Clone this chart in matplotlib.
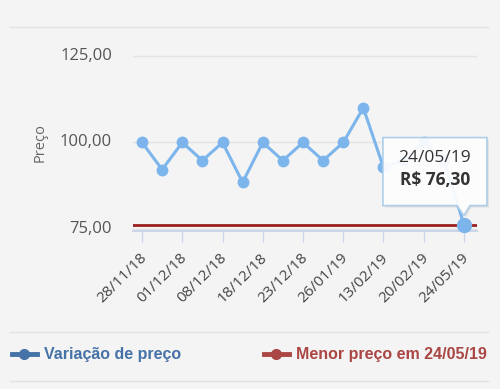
import numpy as np
import matplotlib.pyplot as plt
from matplotlib.lines import Line2D
from matplotlib.patches import Polygon
from matplotlib.transforms import ScaledTranslation

# dados do gráfico
precos = [100, 92.2, 100, 94.8, 100, 88.5, 100, 94.8, 100, 94.8, 100, 110, 92.8, 95, 100, 95, 76.3]
datas = ['28/11/18', '01/12/18', '08/12/18', '18/12/18', '23/12/18',
         '26/01/19', '13/02/19', '20/02/19', '24/05/19']
y_ticks = [75, 100, 125]
menor_preco = 76.3
menor_data = '24/05/19'

bg = '#f4f4f4'
plt.rcParams['font.family'] = ['Open Sans', 'DejaVu Sans']

fig = plt.figure(figsize=(5, 3.89), dpi=100, facecolor=bg)
ax = fig.add_axes([0.266, 0.406, 0.688, 0.453], facecolor=bg)

x = np.arange(len(precos))
ax.axhline(menor_preco, color='#9b1f1f', lw=2, zorder=2)
ax.plot(x, precos, color='#7cb5ec', lw=2.2, marker='o', markersize=7.5, zorder=3)
ax.plot(x[-1], precos[-1], 'o', color='#7cb5ec', markersize=10, zorder=8, clip_on=False)

ax.set_xlim(-0.45, len(precos) - 0.35)
ax.set_ylim(74.43, 125.3)

# eixo y: rótulos colocados à mão
ax.set_yticks(y_ticks)
ax.set_yticklabels([])
ax.yaxis.grid(True, color='#e3e3e3', lw=1)
ax.set_axisbelow(True)
ax.tick_params(axis='y', length=0)
for v in y_ticks:
    ax.text(-0.061, v, f'{v:.2f}'.replace('.', ','), transform=ax.get_yaxis_transform(),
            ha='right', va='center', fontsize=12, color='#555555')
ax.set_ylabel('Preço', fontsize=10.5, color='#666666')
ax.yaxis.set_label_coords(-0.247, 0.5)

# eixo x: só datas pares, rótulos girados
ax.set_xticks(x[::2])
ax.set_xticklabels([])
ax.tick_params(axis='x', length=8, width=1, color='#ccd6eb')
desloc = ax.get_xaxis_transform() + ScaledTranslation(0.025, -0.245, fig.dpi_scale_trans)
for xi, d in zip(x[::2], datas):
    ax.text(xi, 0, d, transform=desloc, rotation=45, ha='right', va='center',
            rotation_mode='anchor', fontsize=11, color='#444444')

for s in ['top', 'right', 'left']:
    ax.spines[s].set_visible(False)
ax.spines['bottom'].set_color('#ccd6eb')
ax.spines['bottom'].set_linewidth(1.5)

# tooltip (em polegadas a partir do último ponto)
ponto = fig.dpi_scale_trans + ScaledTranslation(x[-1], precos[-1], ax.transData)
caixa = [(-0.81, 0.19), (-0.81, 0.87), (0.23, 0.87), (0.23, 0.19),
         (0.06, 0.19), (0.0, 0.09), (-0.07, 0.19)]
sombra = ScaledTranslation(0.02, -0.02, fig.dpi_scale_trans)
ax.add_patch(Polygon(caixa, closed=True, transform=ponto + sombra, fc='#000000',
                     alpha=0.07, ec='none', zorder=5, clip_on=False))
ax.add_patch(Polygon(caixa, closed=True, transform=ponto, fc='white', alpha=0.93,
                     ec='#a9cbe9', lw=1.2, zorder=6, clip_on=False))
valor = f'R$ {precos[-1]:.2f}'.replace('.', ',')
ax.text(-0.29, 0.67, datas[-1], transform=ponto, ha='center', va='center',
        fontsize=12.5, color='#333333', zorder=7)
ax.text(-0.29, 0.45, valor, transform=ponto, ha='center', va='center',
        fontsize=12.5, fontweight='bold', color='#333333', zorder=7)

# linhas separadoras
for yy in [1 - 27 / 389, 1 - 332 / 389, 1 - 381 / 389]:
    fig.add_artist(Line2D([0.02, 0.975], [yy, yy], color='#e2e2e2', lw=1))

# legenda
itens = [('Variação de preço', '#4572a7', -0.005),
         ('Menor preço em ' + menor_data, '#aa4643', 0.499)]
for nome, cor, x0 in itens:
    h = Line2D([], [], color=cor, lw=3.5, marker='o', markersize=7)
    leg = fig.legend([h], [nome], loc='center left', bbox_to_anchor=(x0, 1 - 355 / 389),
                     frameon=False, handlelength=1.55, handletextpad=0.45,
                     prop={'family': 'Liberation Sans', 'weight': 'bold', 'size': 11.5})
    leg.get_texts()[0].set_color(cor)

fig.savefig('out.png', dpi=100, facecolor=bg)
